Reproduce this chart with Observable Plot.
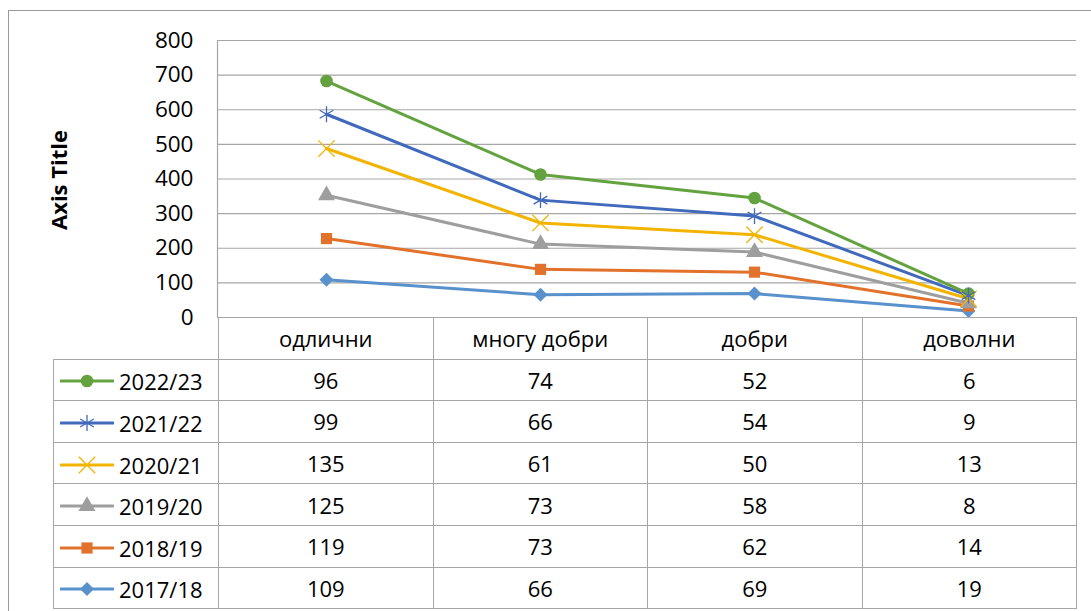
<!DOCTYPE html>
<html>
<head>
<meta charset="utf-8">
<script src="https://cdn.jsdelivr.net/npm/d3@7"></script>
<script src="https://cdn.jsdelivr.net/npm/@observablehq/plot@0.6"></script>
<style>
  html, body { margin: 0; padding: 0; background: #fff; }
  body { font-family: "Open Sans", sans-serif; color: #000; }
  #wrap { position: relative; width: 1091px; height: 611px; overflow: hidden; }
  #border { position: absolute; left: 8px; top: 10px; width: 1090px; height: 610px;
            border-left: 1px solid #9a9a9a; border-top: 1px solid #9a9a9a; box-sizing: border-box; }
  #chart { position: absolute; left: 0; top: 0; }
  #ytitle { position: absolute; left: 58px; top: 180px; transform: translate(-50%, -50%) rotate(-90deg);
            font-weight: bold; font-size: 22px; white-space: nowrap; }
  #tbl { position: absolute; left: 53px; top: 317px; border-collapse: collapse; table-layout: fixed;
         font-size: 22px; }
  #tbl tr { height: 41.6px; }
  #tbl td { border: 1px solid #a6a6a6; padding: 0; text-align: center; vertical-align: middle;
            white-space: nowrap; }
  #tbl td.corner { border-top: none; border-left: none; }
  #tbl td.key { text-align: left; }
  #tbl td.key svg { vertical-align: middle; margin-left: 6px; margin-right: 5px; }
  #tbl td.key span { vertical-align: middle; }
</style>
</head>
<body>
<div id="wrap">
  <div id="border"></div>
  <div id="chart"></div>
  <div id="ytitle">Axis Title</div>
  <table id="tbl"></table>
</div>
<script>
// ---- data ----
const categories = ["одлични", "многу добри", "добри", "доволни"];
const years = ["2022/23", "2021/22", "2020/21", "2019/20", "2018/19", "2017/18"];
const v2022_23 = [96, 74, 52, 6];
const v2021_22 = [99, 66, 54, 9];
const v2020_21 = [135, 61, 50, 13];
const v2019_20 = [125, 73, 58, 8];
const v2018_19 = [119, 73, 62, 14];
const v2017_18 = [109, 66, 69, 19];
const yTicks = [0, 100, 200, 300, 400, 500, 600, 700, 800];

// ---- styles ----
const colors = ["#63a23f", "#4169bc", "#f2b400", "#9e9e9e", "#e2712b", "#5891cb"];
const symbols = ["circle", "asterisk", "times", "triangle", "square", "diamond2"];
const filled = [true, false, false, true, true, true];

const seriesValues = [v2022_23, v2021_22, v2020_21, v2019_20, v2018_19, v2017_18];

// stacked (Excel "stacked line"): bottom series is 2017/18
const stacked = [];
const order = years.map((y, i) => i).reverse(); // 2017/18 first
const cum = categories.map(() => 0);
for (const i of order) {
  categories.forEach((c, j) => {
    cum[j] += seriesValues[i][j];
    stacked.push({year: years[i], cat: c, value: seriesValues[i][j], cum: cum[j], filled: filled[i]});
  });
}

const chart = Plot.plot({
  width: 1091,
  height: 318,
  marginTop: 40,
  marginBottom: 1,
  marginLeft: 217,
  marginRight: 15,
  style: {fontFamily: "Open Sans, sans-serif", fontSize: "22px", color: "#000", background: "transparent", overflow: "visible"},
  x: {type: "point", domain: categories, padding: 0.5, axis: null},
  y: {domain: [0, 800], axis: null},
  color: {domain: years, range: colors},
  symbol: {domain: years, range: symbols},
  marks: [
    Plot.gridY(yTicks, {stroke: "#a6a6a6", strokeOpacity: 1, strokeWidth: 1.2}),
    Plot.axisY(yTicks, {tickSize: 0, tickPadding: 24, fontSize: 22.5, fill: "#000", label: null}),
    Plot.frame({anchor: "left", stroke: "#a6a6a6", strokeWidth: 1.2}),
    Plot.line(stacked, {x: "cat", y: "cum", z: "year", stroke: "year", strokeWidth: 3}),
    Plot.dot(stacked.filter(d => d.filled), {x: "cat", y: "cum", symbol: "year", fill: "year", stroke: "none", r: 6.3}),
    Plot.dot(stacked.filter(d => !d.filled), {x: "cat", y: "cum", symbol: "year", stroke: "year", fill: "none", r: 7.5, strokeWidth: 1.3})
  ]
});
document.getElementById("chart").appendChild(chart);

// ---- data table ----
const tbl = document.getElementById("tbl");
const colW = [165, 214.5, 214.5, 214.5, 214.5];
const cg = document.createElement("colgroup");
colW.forEach(w => { const c = document.createElement("col"); c.style.width = w + "px"; cg.appendChild(c); });
tbl.appendChild(cg);
tbl.style.width = d3.sum(colW) + "px";

const hr = document.createElement("tr");
const corner = document.createElement("td"); corner.className = "corner"; hr.appendChild(corner);
categories.forEach(c => { const td = document.createElement("td"); td.textContent = c; hr.appendChild(td); });
tbl.appendChild(hr);

years.forEach((y, i) => {
  const tr = document.createElement("tr");
  const td = document.createElement("td"); td.className = "key";
  const svg = d3.create("svg").attr("width", 54).attr("height", 20);
  svg.append("line").attr("x1", 1).attr("x2", 53).attr("y1", 10).attr("y2", 10)
     .attr("stroke", colors[i]).attr("stroke-width", 3).attr("stroke-linecap", "round");
  const symMap = {circle: d3.symbolCircle, asterisk: d3.symbolAsterisk, times: d3.symbolTimes,
                  triangle: d3.symbolTriangle, square: d3.symbolSquare, diamond2: d3.symbolDiamond2};
  const sym = d3.symbol(symMap[symbols[i]], Math.PI * (filled[i] ? 40 : 56));
  svg.append("path").attr("d", sym()).attr("transform", "translate(27,10)")
     .attr("fill", filled[i] ? colors[i] : "none")
     .attr("stroke", filled[i] ? "none" : colors[i]).attr("stroke-width", 1.3);
  td.appendChild(svg.node());
  const sp = document.createElement("span"); sp.textContent = y; td.appendChild(sp);
  tr.appendChild(td);
  seriesValues[i].forEach(v => { const c = document.createElement("td"); c.textContent = v; tr.appendChild(c); });
  tbl.appendChild(tr);
});
</script>
</body>
</html>
